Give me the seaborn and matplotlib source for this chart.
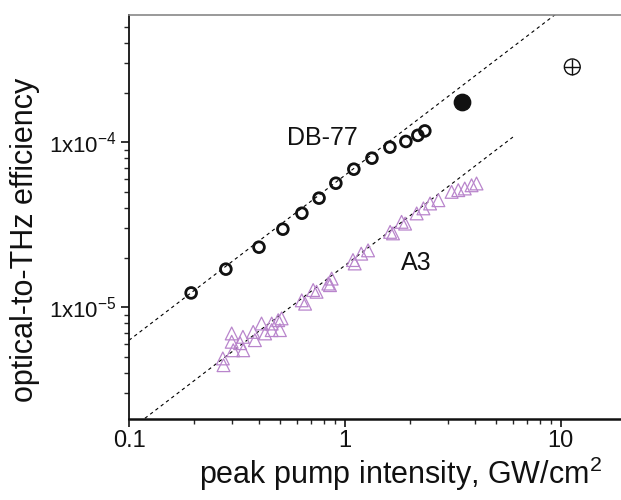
import numpy as np
import pandas as pd
import matplotlib
matplotlib.use('Agg')
import matplotlib.pyplot as plt
import matplotlib.ticker as mticker
import seaborn as sns

# DB-77 measured points (open circles)
db77_x = [0.194, 0.281, 0.400, 0.516, 0.632, 0.759, 0.908, 1.10, 1.334, 1.616, 1.916, 2.177, 2.345]
db77_y = [1.22e-5, 1.70e-5, 2.31e-5, 2.97e-5, 3.71e-5, 4.58e-5, 5.64e-5, 6.86e-5, 8.00e-5, 9.33e-5, 1.01e-4, 1.10e-4, 1.17e-4]

# extra DB-77 points
filled_x = [3.47]
filled_y = [1.74e-4]
cross_x = [11.3]
cross_y = [2.86e-4]

# A3 measured points (open triangles)
a3_x = [0.272, 0.274, 0.299, 0.299, 0.304, 0.327, 0.337, 0.338, 0.376, 0.383,
        0.411, 0.427, 0.458, 0.458, 0.491, 0.500, 0.509, 0.631, 0.654, 0.713,
        0.739, 0.838, 0.868, 0.853, 1.09, 1.11, 1.19, 1.28, 1.62, 1.67,
        1.83, 1.90, 2.15, 2.31, 2.48, 2.71, 3.12, 3.35, 3.59, 3.86, 4.07]
a3_y = [4.89e-6, 4.45e-6, 6.93e-6, 6.17e-6, 5.48e-6, 6.05e-6, 6.61e-6, 5.48e-6, 7.08e-6, 6.31e-6,
        7.96e-6, 6.93e-6, 7.96e-6, 7.26e-6, 8.34e-6, 7.26e-6, 8.55e-6, 1.10e-5, 1.05e-5, 1.27e-5,
        1.24e-5, 1.39e-5, 1.49e-5, 1.36e-5, 1.93e-5, 1.84e-5, 2.11e-5, 2.21e-5, 2.86e-5, 2.80e-5,
        3.29e-5, 3.21e-5, 3.70e-5, 3.97e-5, 4.25e-5, 4.45e-5, 5.00e-5, 5.12e-5, 5.24e-5, 5.48e-5, 5.62e-5]

# linear fits (slope 1 on log-log)
db77_fit_x = [0.1, 10.0]
db77_fit_y = [6.3e-6, 6.3e-4]
a3_fit_x = [0.1, 6.0]
a3_fit_y = [1.79e-6, 1.074e-4]

sns.set_style('ticks')
plt.rcParams['font.family'] = ['Liberation Sans', 'DejaVu Sans']
plt.rcParams['mathtext.default'] = 'regular'

fig = plt.figure(figsize=(6.21, 5.0), dpi=100)
ax = fig.add_axes([129 / 621, 81 / 500, 1 - 129 / 621, 404 / 500])

purple = '#b985cc'

# fit lines
sns.lineplot(x=db77_fit_x, y=db77_fit_y, ax=ax, color='black', lw=0.8,
             dashes=False, legend=False)
sns.lineplot(x=a3_fit_x, y=a3_fit_y, ax=ax, color='black', lw=0.8,
             dashes=False, legend=False)
for ln in ax.get_lines():
    ln.set_linestyle((0, (3, 3)))

# data points
sns.scatterplot(x=a3_x, y=a3_y, ax=ax, marker='^', s=85, facecolor='none',
                edgecolor=purple, linewidth=0.9, zorder=3)
sns.scatterplot(x=db77_x, y=db77_y, ax=ax, marker='o', s=60, facecolor='none',
                edgecolor='#111111', linewidth=2.0, zorder=4)
sns.scatterplot(x=filled_x, y=filled_y, ax=ax, marker='o', s=140, color='#111111',
                edgecolor='#111111', zorder=4)
sns.scatterplot(x=cross_x, y=cross_y, ax=ax, marker='o', s=130, facecolor='none',
                edgecolor='#111111', linewidth=1.0, zorder=4)
sns.scatterplot(x=cross_x, y=cross_y, ax=ax, marker='+', s=130, color='#111111',
                linewidth=1.0, zorder=4)

ax.set_xscale('log')
ax.set_yscale('log')
ax.set_xlim(0.1, 19)
ax.set_ylim(2.1e-6, 5.9e-4)

ax.xaxis.set_major_locator(mticker.FixedLocator([0.1, 1, 10]))
ax.xaxis.set_major_formatter(mticker.FixedFormatter(['0.1', '1', '10']))
ax.xaxis.set_minor_locator(mticker.LogLocator(base=10, subs=np.arange(2, 10), numticks=20))
ax.xaxis.set_minor_formatter(mticker.NullFormatter())
ax.yaxis.set_major_locator(mticker.FixedLocator([1e-5, 1e-4]))
ax.yaxis.set_major_formatter(mticker.FixedFormatter(['1x10$^{-5}$', '1x10$^{-4}$']))
ax.yaxis.set_minor_locator(mticker.LogLocator(base=10, subs=np.arange(2, 10), numticks=20))
ax.yaxis.set_minor_formatter(mticker.NullFormatter())

ax.tick_params(which='major', length=6, width=1.2, direction='out', colors='#111111')
ax.tick_params(which='minor', length=3.5, width=1.0, direction='out')
ax.tick_params(axis='x', which='major', pad=2, labelsize=17)
ax.tick_params(axis='y', which='major', pad=3, labelsize=16)

ax.spines['right'].set_visible(False)
ax.spines['top'].set_color('#888888')
ax.spines['top'].set_linewidth(1.2)
ax.spines['left'].set_linewidth(1.3)
ax.spines['bottom'].set_linewidth(1.8)
ax.spines['left'].set_color('#111111')
ax.spines['bottom'].set_color('#111111')

ax.text(0.79, 1.06e-4, 'DB-77', fontsize=18, ha='center', va='center', color='#111111')
ax.text(2.15, 1.84e-5, 'A3', fontsize=18, ha='center', va='center', color='#111111')

ax.set_xlabel('peak pump intensity, GW/cm$^2$', fontsize=22, color='#111111')
ax.set_ylabel('optical-to-THz efficiency', fontsize=22, color='#111111')
ax.xaxis.set_label_coords(0.551, -0.089)
ax.yaxis.set_label_coords(-0.181, 0.443)

fig.savefig('out.png', dpi=100)
